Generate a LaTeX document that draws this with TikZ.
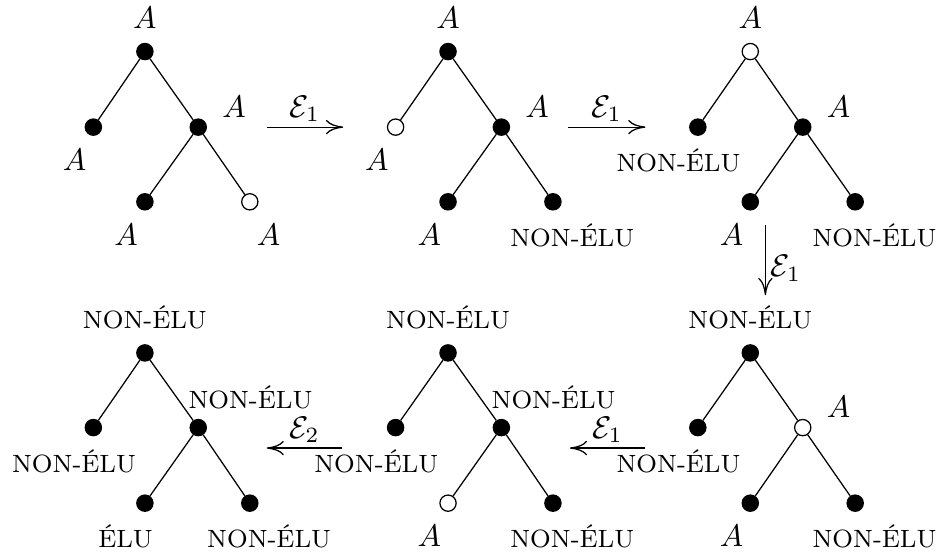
\documentclass[tikz,border=0pt]{standalone}
\usepackage{tikz}
\usetikzlibrary{arrows.meta}

\newcommand{\nonelu}{{\footnotesize NON-ÉLU}}
\newcommand{\elu}{{\footnotesize ÉLU}}

\begin{document}
\begin{tikzpicture}[
    fulldot/.style={circle, draw, fill=black, inner sep=0pt, minimum size=5.2pt},
    opendot/.style={circle, draw, fill=white, inner sep=0pt, minimum size=5.2pt},
    label distance=1.2pt,
    tagN/.style={label={90:#1}},
    tagNE/.style={label={[anchor=210, label distance=2pt]30:#1}},
    tagSW/.style={label={[anchor=60]-120:#1}},
    tagSE/.style={label={[anchor=120]-60:#1}},
    arrow/.style={-{Computer Modern Rightarrow[length=5.5pt, width=4.6pt]}},
    steplabel/.style={inner sep=1.5pt}
]
\useasboundingbox (0,0) rectangle (10.563,-6.266);

% first tree
\node[fulldot, tagN=$A$] (a0) at (1.63,-0.58) {};
\node[fulldot, tagSW=$A$] (a1) at (1.05,-1.43) {};
\node[fulldot, tagNE=$A$] (a2) at (2.23,-1.43) {};
\node[fulldot, tagSW=$A$] (a3) at (1.63,-2.27) {};
\node[opendot, tagSE=$A$] (a4) at (2.81,-2.27) {};
\draw (a0) -- (a1);
\draw (a0) -- (a2);
\draw (a2) -- (a3);
\draw (a2) -- (a4);

% second tree
\node[fulldot, tagN=$A$] (b0) at (5.04,-0.58) {};
\node[opendot, tagSW=$A$] (b1) at (4.45,-1.43) {};
\node[fulldot, tagNE=$A$] (b2) at (5.64,-1.43) {};
\node[fulldot, tagSW=$A$] (b3) at (5.04,-2.27) {};
\node[fulldot, tagSE=\nonelu] (b4) at (6.22,-2.27) {};
\draw (b0) -- (b1);
\draw (b0) -- (b2);
\draw (b2) -- (b3);
\draw (b2) -- (b4);

% third tree
\node[opendot, tagN=$A$] (c0) at (8.44,-0.58) {};
\node[fulldot, tagSW=\nonelu] (c1) at (7.85,-1.43) {};
\node[fulldot, tagNE=$A$] (c2) at (9.03,-1.43) {};
\node[fulldot, tagSW=$A$] (c3) at (8.44,-2.27) {};
\node[fulldot, tagSE=\nonelu] (c4) at (9.62,-2.27) {};
\draw (c0) -- (c1);
\draw (c0) -- (c2);
\draw (c2) -- (c3);
\draw (c2) -- (c4);

% fourth tree
\node[fulldot, tagN=\nonelu] (d0) at (8.44,-3.97) {};
\node[fulldot, tagSW=\nonelu] (d1) at (7.85,-4.81) {};
\node[opendot, tagNE=$A$] (d2) at (9.03,-4.81) {};
\node[fulldot, tagSW=$A$] (d3) at (8.44,-5.66) {};
\node[fulldot, tagSE=\nonelu] (d4) at (9.62,-5.66) {};
\draw (d0) -- (d1);
\draw (d0) -- (d2);
\draw (d2) -- (d3);
\draw (d2) -- (d4);

% fifth tree
\node[fulldot, tagN=\nonelu] (e0) at (5.04,-3.97) {};
\node[fulldot, tagSW=\nonelu] (e1) at (4.45,-4.81) {};
\node[fulldot, tagNE=\nonelu] (e2) at (5.64,-4.81) {};
\node[opendot, tagSW=$A$] (e3) at (5.04,-5.66) {};
\node[fulldot, tagSE=\nonelu] (e4) at (6.22,-5.66) {};
\draw (e0) -- (e1);
\draw (e0) -- (e2);
\draw (e2) -- (e3);
\draw (e2) -- (e4);

% sixth tree
\node[fulldot, tagN=\nonelu] (f0) at (1.63,-3.97) {};
\node[fulldot, tagSW=\nonelu] (f1) at (1.05,-4.81) {};
\node[fulldot, tagNE=\nonelu] (f2) at (2.23,-4.81) {};
\node[fulldot, tagSW=\elu] (f3) at (1.63,-5.66) {};
\node[fulldot, tagSE=\nonelu] (f4) at (2.81,-5.66) {};
\draw (f0) -- (f1);
\draw (f0) -- (f2);
\draw (f2) -- (f3);
\draw (f2) -- (f4);

% steps
\coordinate (s1a) at (3.00,-1.43);
\coordinate (s1b) at (3.86,-1.43);
\coordinate (s2a) at (6.39,-1.43);
\coordinate (s2b) at (7.26,-1.43);
\coordinate (s3a) at (8.61,-2.53);
\coordinate (s3b) at (8.61,-3.32);
\coordinate (s4a) at (7.26,-5.04);
\coordinate (s4b) at (6.41,-5.04);
\coordinate (s5a) at (3.85,-5.04);
\coordinate (s5b) at (3.00,-5.04);

\draw[arrow] (s1a) -- node[steplabel, above] {$\mathcal{E}_1$} (s1b);
\draw[arrow] (s2a) -- node[steplabel, above] {$\mathcal{E}_1$} (s2b);
\draw[arrow] (s3a) -- node[steplabel, pos=0.62, right] {$\mathcal{E}_1$} (s3b);
\draw[arrow] (s4a) -- node[steplabel, above] {$\mathcal{E}_1$} (s4b);
\draw[arrow] (s5a) -- node[steplabel, above] {$\mathcal{E}_2$} (s5b);

\end{tikzpicture}
\end{document}
